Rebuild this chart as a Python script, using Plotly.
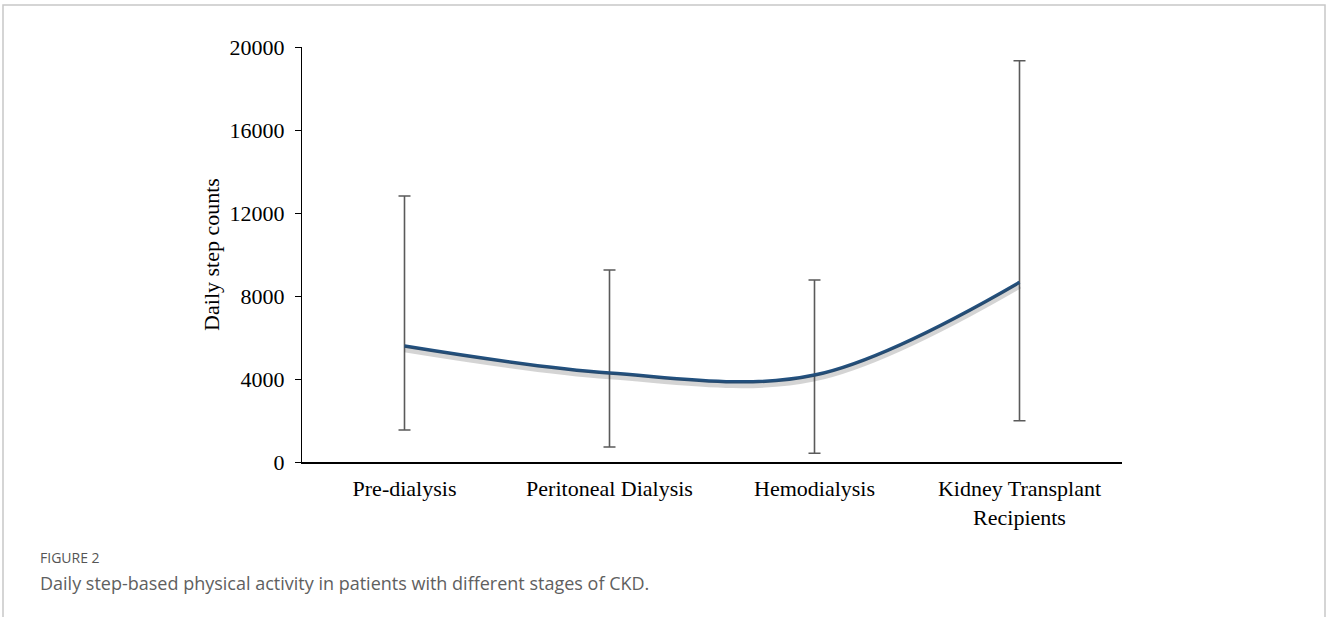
import plotly.graph_objects as go

categories = ["Pre-dialysis", "Peritoneal Dialysis", "Hemodialysis", "Kidney Transplant<br>Recipients"]
mean_steps = [5590, 4290, 4190, 8660]
upper_steps = [12820, 9250, 8770, 19340]
lower_steps = [1540, 720, 420, 1990]
y_ticks = [0, 4000, 8000, 12000, 16000, 20000]

err_plus = [u - m for u, m in zip(upper_steps, mean_steps)]
err_minus = [m - l for m, l in zip(mean_steps, lower_steps)]

W, H = 1328, 617
L, R, T, B = 302, 206, 47, 155
pw, ph = W - L - R, H - T - B

def px(x):
    return (x - L) / pw

def py(y):
    return (H - B - y) / ph

SERIF = "Liberation Serif, Times New Roman, serif"
FS = 22

fig = go.Figure()

# soft shadow of the line
fig.add_trace(go.Scatter(
    x=categories, y=mean_steps, mode="lines",
    line=dict(shape="spline", smoothing=1.0, color="rgba(60,60,60,0.22)", width=6),
    yaxis="y2", hoverinfo="skip", showlegend=False,
))

# error bars
fig.add_trace(go.Scatter(
    x=categories, y=mean_steps, mode="markers",
    marker=dict(size=1, color="rgba(0,0,0,0)"),
    error_y=dict(type="data", symmetric=False, array=err_plus, arrayminus=err_minus,
                 color="#5a5a5a", thickness=1.6, width=6),
    showlegend=False,
))

# main line
fig.add_trace(go.Scatter(
    x=categories, y=mean_steps, mode="lines",
    line=dict(shape="spline", smoothing=1.0, color="#22507e", width=3.5),
    showlegend=False,
))

fig.update_layout(
    width=W, height=H,
    margin=dict(l=L, r=R, t=T, b=B),
    paper_bgcolor="white", plot_bgcolor="white",
    showlegend=False,
    xaxis=dict(
        type="category", range=[-0.5, 3.5],
        showline=True, linecolor="black", linewidth=2,
        ticks="", showgrid=False, zeroline=False,
        tickfont=dict(family=SERIF, size=FS, color="black"),
        ticklabelstandoff=6,
    ),
    yaxis=dict(
        range=[0, 20000], tickvals=y_ticks, ticktext=[str(v) for v in y_ticks],
        showline=True, linecolor="black", linewidth=1,
        ticks="outside", ticklen=6, tickcolor="black", tickwidth=1,
        showgrid=False, zeroline=False,
        tickfont=dict(family=SERIF, size=FS, color="black"),
        ticklabelstandoff=6,
        title=dict(text="Daily step counts", font=dict(family=SERIF, size=FS, color="black"), standoff=3),
    ),
    yaxis2=dict(
        range=[160, 20160], overlaying="y", visible=False,
    ),
    shapes=[
        dict(type="rect", xref="paper", yref="paper",
             x0=px(3), x1=px(1325), y0=py(640), y1=py(5),
             line=dict(color="#c8c8c8", width=1.5), fillcolor="rgba(0,0,0,0)", layer="below"),
    ],
    annotations=[
        dict(text="FIGURE 2", xref="paper", yref="paper", x=px(38), y=py(557),
             xanchor="left", yanchor="middle", showarrow=False,
             font=dict(family="Open Sans, sans-serif", size=14, color="#555555")),
        dict(text="Daily step-based physical activity in patients with different stages of CKD.",
             xref="paper", yref="paper", x=px(38), y=py(583),
             xanchor="left", yanchor="middle", showarrow=False,
             font=dict(family="Open Sans, sans-serif", size=18, color="#606060")),
    ],
)

fig.write_html("out.html", config={"displayModeBar": False},
               post_script="document.body.style.margin='0';document.body.style.overflow='hidden';")
